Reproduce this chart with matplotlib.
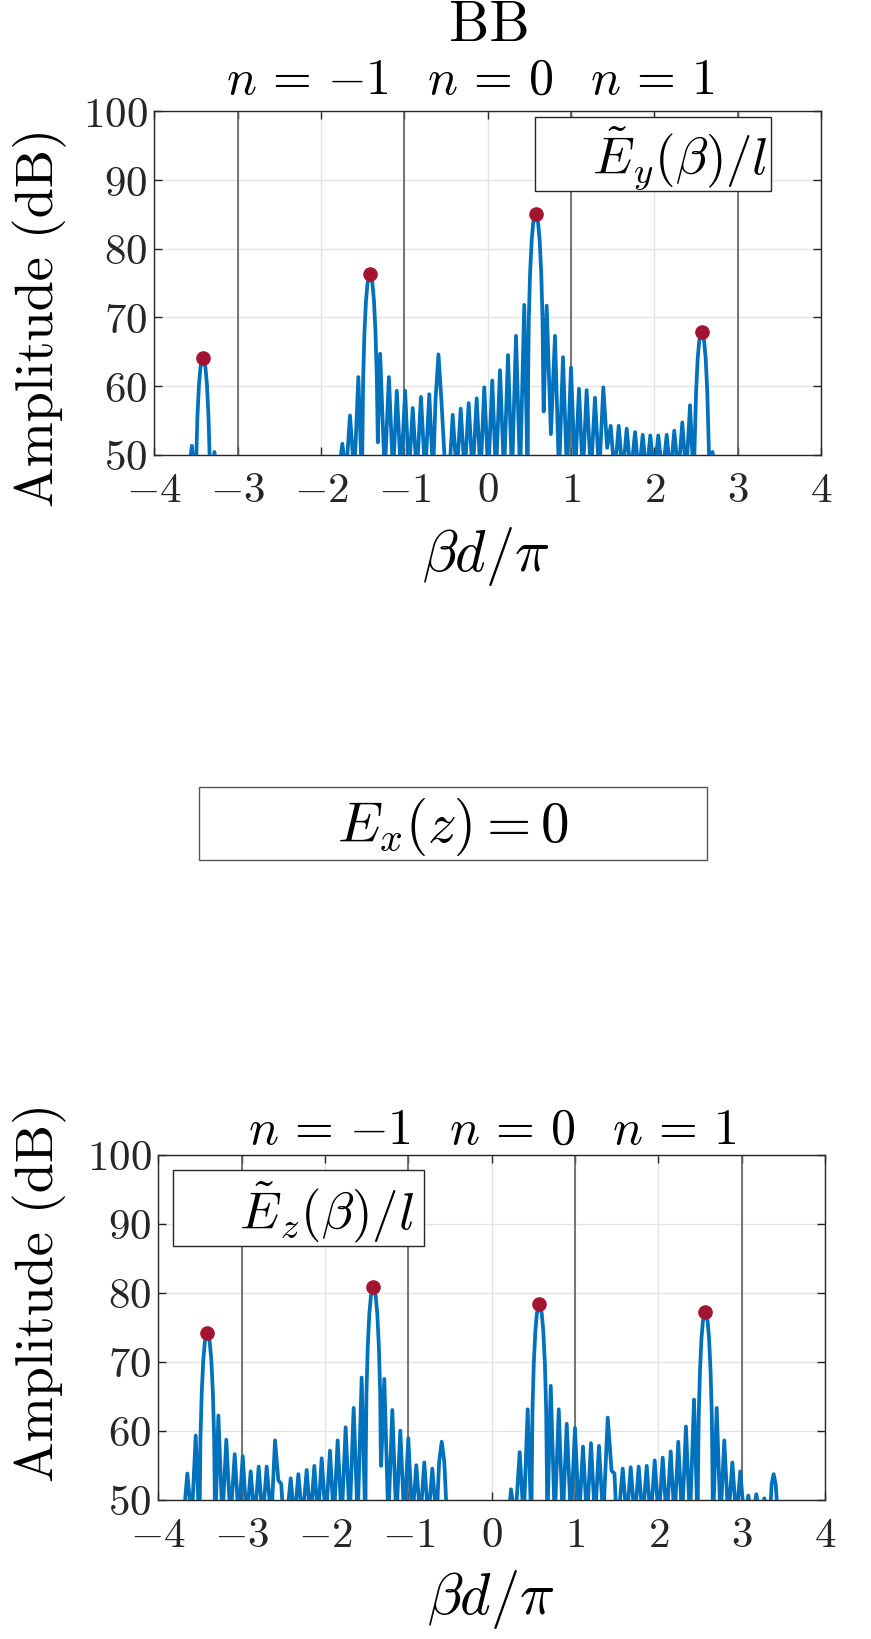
import numpy as np
import matplotlib
matplotlib.use('Agg')
import matplotlib.pyplot as plt
from matplotlib.patches import Rectangle

plt.rcParams['mathtext.fontset'] = 'cm'
plt.rcParams['font.family'] = 'serif'
plt.rcParams['font.serif'] = ['cmr10', 'DejaVu Serif']

# axis ticks
x_ticks = [-4, -3, -2, -1, 0, 1, 2, 3, 4]
x_tick_labels = [r'$-4$', r'$-3$', r'$-2$', r'$-1$', r'$0$', r'$1$', r'$2$', r'$3$', r'$4$']
y_ticks = [50, 60, 70, 80, 90, 100]
y_tick_labels = [r'$50$', r'$60$', r'$70$', r'$80$', r'$90$', r'$100$']
zone_lines = [-3, -1, 1, 3]

# E_y spectrum (beta d / pi, dB); nan = gap
ey_x = [-3.59, -3.55, -3.513, -3.499, -3.484, -3.465, -3.446, -3.417, -3.388, -3.369, -3.35, -3.335, -3.321,
        -3.28, -3.24, np.nan,
        -1.79, -1.744, -1.70, -1.652, -1.60, -1.552, -1.508, -1.503, -1.494, -1.479, -1.46, -1.441, -1.412,
        -1.383, -1.364, -1.345, -1.33, -1.318, -1.29, -1.235, -1.185, -1.135, -1.09, -1.04, -0.99, -0.945,
        -0.899, -0.85, -0.80, -0.75, -0.70, -0.655, -0.625, -0.59, -0.555, -0.505, -0.46, -0.419, -0.37,
        -0.323, -0.275, -0.227, -0.18, -0.131, -0.085, -0.04, 0.008, 0.056, 0.10, 0.149, 0.197, 0.245,
        0.293, 0.341, 0.39, 0.44, 0.481, 0.486, 0.495, 0.51, 0.529, 0.548, 0.577, 0.606, 0.625, 0.644,
        0.659, 0.668, 0.673, 0.709, 0.76, 0.809, 0.857, 0.905, 0.953, 1.001, 1.05, 1.097, 1.143, 1.189,
        1.24, 1.289, 1.34, 1.389, 1.435, 1.478, 1.524, 1.574, 1.622, 1.67, 1.72, 1.77, 1.816, 1.862,
        1.908, 1.953, 2.0, 2.049, 2.10, 2.15, 2.195, 2.241, 2.29, 2.337, 2.384, 2.43, 2.474, 2.488,
        2.503, 2.522, 2.541, 2.57, 2.599, 2.618, 2.637, 2.652, 2.666, 2.70, 2.74]
ey_db = [47, 51.3, 46, 48.9, 55.4, 60.2, 62.8, 64.1, 62.8, 60.2, 55.4, 48.9, 46,
         50.4, 47, np.nan,
         47, 51.6, 47, 55.7, 47, 61.3, 46, 51.3, 61.1, 67.6, 72.4, 75.0, 76.3,
         75.0, 72.4, 67.6, 61.1, 51.8, 64.7, 47, 61.3, 47, 59.3, 47, 59.3, 47,
         56.8, 47, 58.4, 47, 58.8, 47, 58.0, 64.6, 58.0, 47, 47, 55.8, 47,
         56.7, 47, 57.5, 47, 58.2, 47, 59.8, 47, 60.8, 47, 62.3, 47, 64.5,
         47, 67.3, 47, 71.8, 46, 60.1, 69.9, 76.4, 81.2, 83.8, 85.1, 83.8, 81.2, 76.4,
         69.9, 60.1, 56.3, 71.7, 53.0, 67.3, 47, 64.2, 47, 62.7, 47, 59.6, 47, 59.4,
         47, 58.3, 47, 59.8, 51.0, 54.2, 47, 54.2, 47, 53.8, 47, 53.3, 47, 52.9,
         47, 52.8, 47, 52.8, 47, 52.9, 47, 53.5, 47, 54.7, 47, 57.2, 46, 52.7,
         59.2, 64.0, 66.6, 67.9, 66.6, 64.0, 59.2, 52.7, 46, 50.4, 47]
ey_peak_x = [-3.417, -1.412, 0.577, 2.57]
ey_peak_db = [64.1, 76.3, 85.1, 67.9]

# E_z spectrum
ez_x = [-3.70, -3.653, -3.60, -3.552, -3.509, -3.504, -3.495, -3.48, -3.461, -3.442, -3.413, -3.384, -3.365,
        -3.346, -3.331, -3.322, -3.317, -3.28, -3.232, -3.185, -3.135, -3.084, -3.036, -2.988, -2.94,
        -2.892, -2.844, -2.796, -2.748, -2.70, -2.645, -2.60, -2.56, -2.525, -2.50, -2.46, -2.412, -2.366,
        -2.32, -2.27, -2.22, -2.174, -2.128, -2.084, -2.04, -1.99, -1.94, -1.894, -1.848, -1.80, -1.752,
        -1.704, -1.656, -1.608, -1.56, -1.515, -1.511, -1.502, -1.487, -1.468, -1.449, -1.42, -1.391,
        -1.372, -1.353, -1.338, -1.33, -1.326, -1.288, -1.24, -1.192, -1.144, -1.096, -1.048, -1.0,
        -0.952, -0.904, -0.856, -0.808, -0.76, -0.712, -0.66, -0.63, -0.599, -0.568, -0.535, np.nan,
        0.20, 0.233, 0.285, 0.337, 0.385, 0.433, 0.478, 0.482, 0.491, 0.506, 0.525, 0.544, 0.573, 0.602,
        0.621, 0.64, 0.655, 0.664, 0.668, 0.71, 0.758, 0.806, 0.854, 0.902, 0.952, 1.001, 1.05, 1.097,
        1.145, 1.193, 1.241, 1.289, 1.34, 1.394, 1.44, 1.475, 1.50, 1.52, 1.574, 1.622, 1.67, 1.718,
        1.766, 1.814, 1.862, 1.91, 1.958, 2.006, 2.054, 2.102, 2.15, 2.196, 2.241, 2.287, 2.333, 2.381,
        2.43, 2.473, 2.477, 2.486, 2.501, 2.519, 2.537, 2.565, 2.593, 2.611, 2.629, 2.644, 2.653, 2.657,
        2.702, 2.748, 2.793, 2.842, 2.89, 2.938, 2.985, 3.034, 3.082, 3.13, 3.178, 3.226, 3.274, 3.32,
        3.34, 3.362, 3.386, 3.41, 3.44]
ez_db = [47, 53.8, 47, 59.3, 46, 49.2, 59.0, 65.5, 70.3, 72.9, 74.2, 72.9, 70.3,
         65.5, 59.0, 49.2, 46, 62.2, 47, 58.7, 47, 56.6, 47, 56.3, 47,
         54.1, 47, 54.8, 47, 54.8, 47, 58.6, 52.8, 52.3, 47, 47, 53.1, 47,
         53.7, 47, 54.3, 47, 54.9, 47, 56.0, 47, 57.1, 47, 58.6, 47, 60.5,
         47, 63.3, 47, 67.7, 46, 55.8, 65.6, 72.1, 76.9, 79.5, 80.8, 79.5,
         76.9, 72.1, 65.6, 56.0, 54.9, 67.5, 47, 63.0, 47, 60.0, 47, 58.9,
         47, 55.0, 47, 55.4, 47, 54.5, 47, 55.5, 58.4, 55.5, 47, np.nan,
         47, 51.5, 47, 56.9, 47, 63.1, 46, 53.3, 63.1, 69.6, 74.4, 77.0, 78.3, 77.0,
         74.4, 69.6, 63.1, 53.3, 46, 66.5, 47, 63.1, 47, 61.0, 47, 60.4, 47, 57.7,
         47, 58.2, 47, 57.8, 47, 61.9, 54.2, 53.8, 47, 47, 54.5, 47, 54.7, 47,
         54.8, 47, 54.9, 47, 55.7, 47, 56.1, 47, 57.0, 47, 58.4, 47, 60.6, 47,
         64.5, 46, 52.2, 62.0, 68.5, 73.3, 75.9, 77.2, 75.9, 73.3, 68.5, 62.0, 52.2, 46,
         63.3, 47, 58.6, 47, 55.4, 47, 54.1, 47, 50.6, 47, 50.8, 47, 50.2, 47,
         47, 52.3, 53.7, 52.3, 47]
ez_peak_x = [-3.413, -1.42, 0.573, 2.565]
ez_peak_db = [74.2, 80.8, 78.3, 77.2]

W, H = 871, 1640
fig = plt.figure(figsize=(W / 100, H / 100), dpi=100)


def fx(px):
    return px / W


def fy(py):
    return 1 - py / H


def style(ax):
    ax.set_xlim(-4, 4)
    ax.set_ylim(50, 100)
    ax.set_xticks(x_ticks)
    ax.set_xticklabels(x_tick_labels)
    ax.set_yticks(y_ticks)
    ax.set_yticklabels(y_tick_labels)
    ax.tick_params(direction='in', length=6, width=1, top=True, right=True,
                   labelsize=31, color='#262626', labelcolor='#262626')
    ax.tick_params(axis='x', pad=12)
    ax.tick_params(axis='y', pad=5)
    ax.grid(True, color='#e3e3e3', lw=1)
    ax.set_axisbelow(True)
    for s in ax.spines.values():
        s.set_color('#262626')
        s.set_linewidth(1)
    for xv in zone_lines:
        ax.axvline(xv, color='#606060', lw=1.2, zorder=1.5)


def text_box(x0, y0, x1, y1, edge='#262626'):
    r = Rectangle((fx(x0), fy(y1)), fx(x1) - fx(x0), (y1 - y0) / H, transform=fig.transFigure,
                  facecolor='white', edgecolor=edge, lw=1, zorder=5)
    fig.add_artist(r)


ax1 = fig.add_axes([fx(154.4), fy(455.7), fx(820.8) - fx(154.4), (455.7 - 112.2) / H])
style(ax1)
ax1.plot(ey_x, ey_db, color='#0072BD', lw=2.7, solid_joinstyle='round', zorder=3)
ax1.plot(ey_peak_x, ey_peak_db, 'o', color='#A2142F', ms=9.5, zorder=4)

ax2 = fig.add_axes([fx(158.4), fy(1500.7), fx(824.8) - fx(158.4), 345 / H])
style(ax2)
ax2.plot(ez_x, ez_db, color='#0072BD', lw=2.7, solid_joinstyle='round', zorder=3)
ax2.plot(ez_peak_x, ez_peak_db, 'o', color='#A2142F', ms=9.5, zorder=4)

# titles and labels
n_label = r'$n\,=\,{-1}\;\;\;n\,=\,0\;\;\;n\,=\,1$'
fig.text(fx(489), fy(26), 'BB', fontsize=41, ha='center', va='center')
fig.text(fx(470), fy(81), n_label, fontsize=36, ha='center', va='center')
fig.text(fx(492), fy(1131), n_label, fontsize=36, ha='center', va='center')
fig.text(fx(40), fy(317), 'Amplitude (dB)', rotation=90, fontsize=39, ha='center', va='center')
fig.text(fx(40), fy(1292), 'Amplitude (dB)', rotation=90, fontsize=39, ha='center', va='center')
fig.text(fx(486), fy(557), r'$\beta d/\pi$', fontsize=42, ha='center', va='center')
fig.text(fx(491), fy(1600), r'$\beta d/\pi$', fontsize=42, ha='center', va='center')

# legend boxes
text_box(535, 118, 771, 192)
fig.text(fx(680), fy(158), r'$\tilde{E}_y(\beta)/l$', fontsize=38, ha='center', va='center', zorder=6)
text_box(173, 1171, 424, 1247)
fig.text(fx(326), fy(1212), r'$\tilde{E}_z(\beta)/l$', fontsize=38, ha='center', va='center', zorder=6)

# empty panel note
text_box(199, 788, 707, 861, edge='#555555')
fig.text(fx(453), fy(827), r'$E_x(z)=0$', fontsize=41, ha='center', va='center', zorder=6)

fig.savefig('out.png', dpi=100)
